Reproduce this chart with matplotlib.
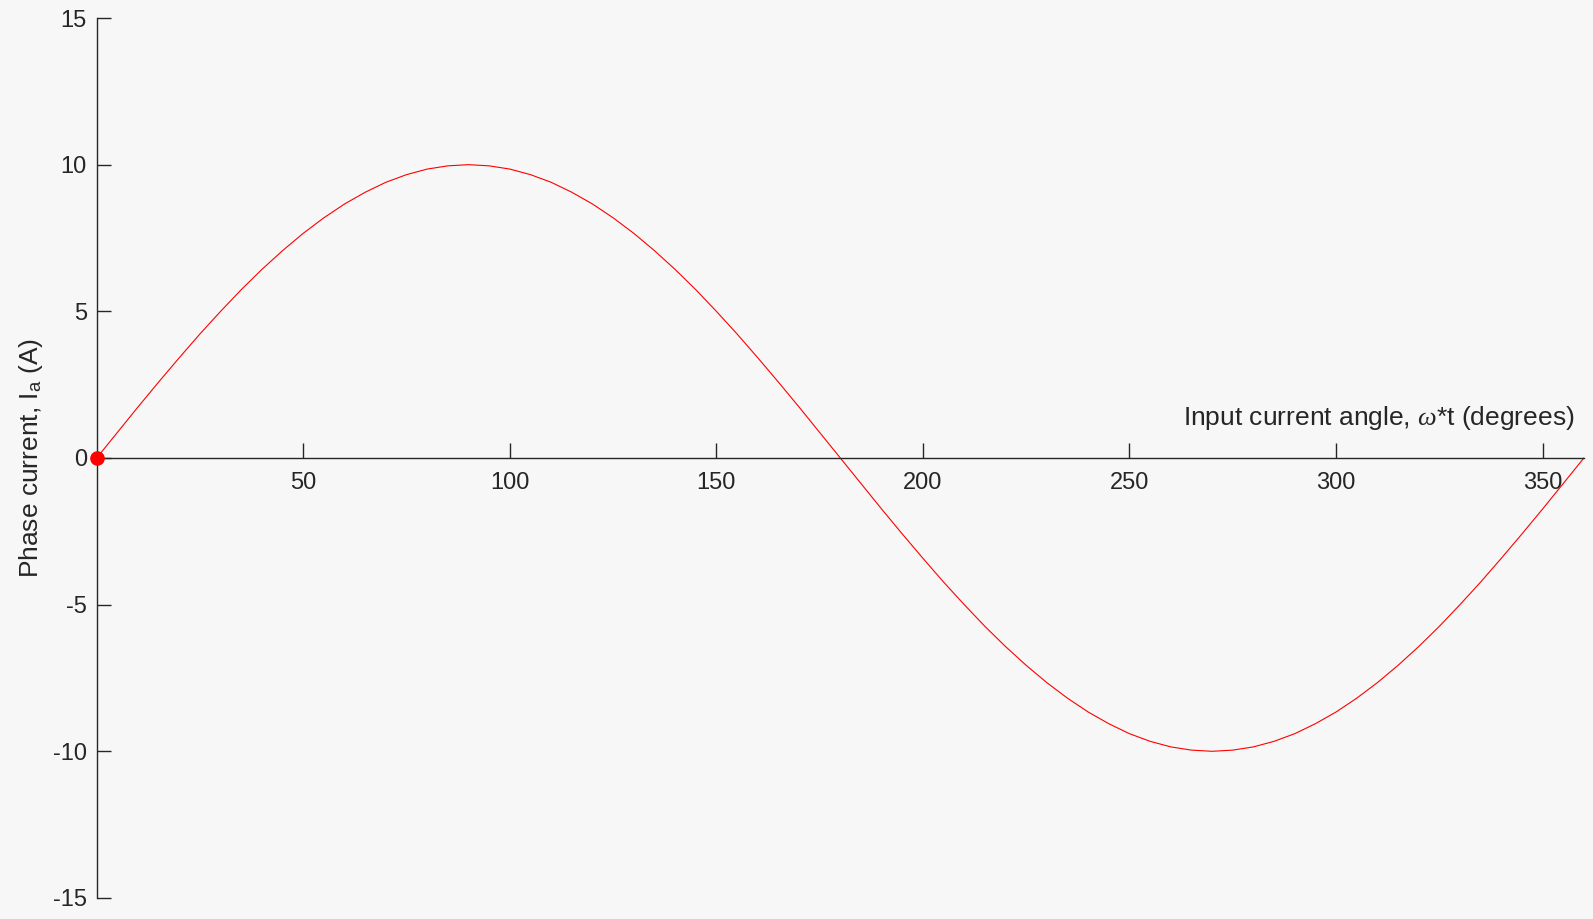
import numpy as np
import matplotlib
matplotlib.use('Agg')
import matplotlib.pyplot as plt

plt.rcParams['font.family'] = ['Liberation Sans', 'DejaVu Sans']
plt.rcParams['mathtext.fontset'] = 'custom'
plt.rcParams['mathtext.rm'] = 'Liberation Sans'
plt.rcParams['mathtext.it'] = 'Liberation Serif:italic'

# angle (degrees) and phase current
angle = np.arange(0, 361, 5)
rise = [0.0, 0.87, 1.74, 2.59, 3.42, 4.23, 5.0, 5.74, 6.43, 7.07, 7.66, 8.19,
        8.66, 9.06, 9.40, 9.66, 9.85, 9.96, 10.0]
fall = [9.96, 9.85, 9.66, 9.40, 9.06, 8.66, 8.19, 7.66, 7.07, 6.43, 5.74, 5.0,
        4.23, 3.42, 2.59, 1.74, 0.87, 0.0]
current = rise + fall + [-v for v in rise[1:]] + [-v for v in fall]

xticks = [50, 100, 150, 200, 250, 300, 350]
yticks = [-15, -10, -5, 0, 5, 10, 15]

bg = '#f7f7f7'
ink = '#262626'

fig = plt.figure(figsize=(15.93, 9.19), dpi=100, facecolor=bg)
ax = fig.add_axes([0.0607, 0.0229, 0.9336, 0.9575], facecolor=bg)

ax.plot(angle, current, color='red', lw=0.8)
ax.plot([angle[0]], [current[0]], 'o', color='red', ms=9.5, clip_on=False, zorder=5)

ax.set_xlim(0, 360)
ax.set_ylim(-15, 15)
ax.set_xticks(xticks)
ax.set_yticks(yticks)
ax.set_yticklabels([str(v) for v in yticks])

ax.spines['bottom'].set_position(('data', 0))
ax.spines['top'].set_visible(False)
ax.spines['right'].set_visible(False)
for s in ('bottom', 'left'):
    ax.spines[s].set_color(ink)
    ax.spines[s].set_linewidth(1.0)

ax.tick_params(axis='x', direction='in', length=11, width=1, color=ink,
               labelcolor=ink, labelsize=17, pad=10)
ax.tick_params(axis='y', direction='in', length=10, width=1, color=ink,
               labelcolor=ink, labelsize=17, pad=7)

ax.set_ylabel(r'Phase current, I$_{\rm a}$ (A)', fontsize=19, color=ink, labelpad=6)
ax.text(0.9935, 0.5 + 0.03, r'Input current angle, $\omega$*t (degrees)', transform=ax.transAxes,
        ha='right', va='bottom', fontsize=19, color=ink)

fig.savefig('out.png', dpi=100, facecolor=bg)
